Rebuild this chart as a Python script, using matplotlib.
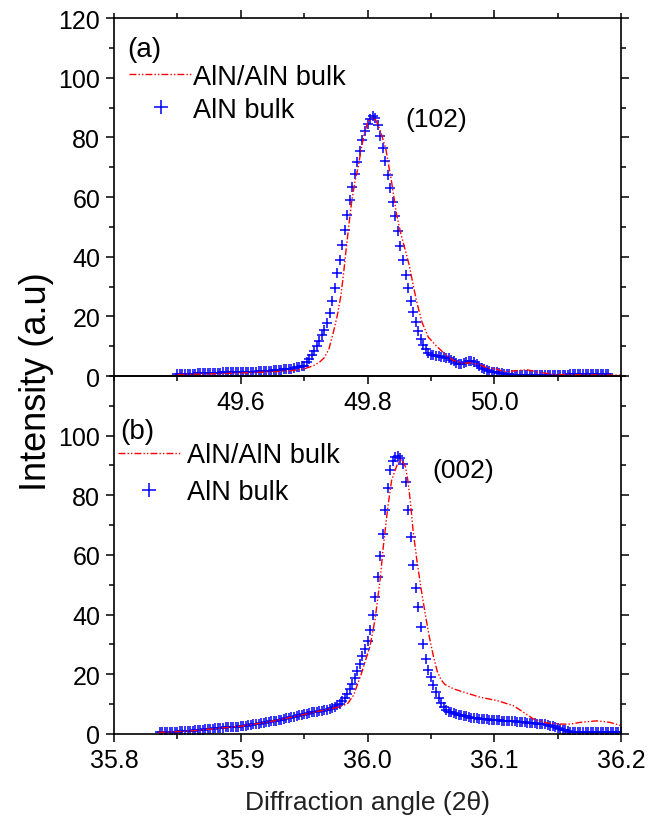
import numpy as np
import matplotlib
matplotlib.use("Agg")
import matplotlib.pyplot as plt
from matplotlib.ticker import MultipleLocator

plt.rcParams["font.family"] = ["Liberation Sans", "DejaVu Sans"]

# ---- (a) (102) reflection ----
# AlN bulk scan: 49.500 .. 50.180, step 0.004
x102_start, x102_stop, x102_step = 49.500, 50.180, 0.004
bulk102 = [
    0.6, 0.6, 0.7, 0.7, 0.7, 0.8, 0.8, 0.8, 0.9, 0.9,
    0.9, 1.0, 1.0, 1.0, 1.0, 1.1, 1.1, 1.1, 1.2, 1.2,
    1.2, 1.2, 1.3, 1.3, 1.3, 1.3, 1.4, 1.4, 1.4, 1.5,
    1.5, 1.5, 1.6, 1.6, 1.7, 1.7, 1.8, 1.8, 1.9, 2.0,
    2.0, 2.1, 2.2, 2.3, 2.4, 2.5, 2.7, 2.9, 3.1, 3.3,
    3.5, 4.6, 5.8, 7.0, 8.5, 10.0, 11.8, 13.6, 15.5, 17.8,
    21.0, 25.0, 29.5, 34.5, 39.0, 44.0, 49.0, 54.0, 59.0, 63.5,
    67.8, 71.8, 75.5, 79.0, 82.0, 84.5, 86.0, 87.0, 86.5, 84.0,
    80.5, 76.5, 72.0, 67.5, 63.0, 58.5, 53.5, 48.5, 43.5, 38.8,
    34.0, 29.5, 25.3, 21.5, 18.0, 15.0, 12.5, 10.5, 9.0, 7.8,
    7.2, 6.9, 6.7, 6.6, 6.5, 6.4, 6.2, 6.0, 5.5, 5.0,
    4.4, 4.0, 4.1, 4.4, 4.7, 5.0, 5.2, 4.8, 4.0, 3.2,
    2.6, 2.2, 1.9, 1.7, 1.5, 1.3, 1.2, 1.0, 0.9, 0.8,
    0.7, 0.6, 0.5, 0.5, 0.4, 0.4, 0.4, 0.3, 0.3, 0.3,
    0.3, 0.3, 0.3, 0.3, 0.3, 0.3, 0.3, 0.4, 0.4, 0.4,
    0.4, 0.5, 0.5, 0.5, 0.5, 0.6, 0.6, 0.6, 0.6, 0.7,
    0.7, 0.7, 0.7, 0.7, 0.8, 0.8, 0.8, 0.8, 0.8, 0.8,
    0.8,
]
# AlN/AlN bulk layer
film102_x = [49.500, 49.550, 49.600, 49.650, 49.680, 49.700, 49.715, 49.725, 49.732, 49.739,
             49.746, 49.752, 49.758, 49.762, 49.766, 49.770, 49.775, 49.780, 49.786, 49.790,
             49.795, 49.801, 49.808, 49.813, 49.817, 49.822, 49.829, 49.833, 49.838, 49.842,
             49.846, 49.852, 49.859, 49.866, 49.872, 49.878, 49.886, 49.896, 49.909, 49.922,
             49.935, 49.949, 49.962, 49.975, 49.990, 50.000, 50.018, 50.035, 50.051, 50.073,
             50.095, 50.150, 50.200]
film102_y = [0.5, 0.7, 1.0, 1.4, 1.8, 2.4, 3.5, 4.8, 6.2, 9.0,
             14.6, 20.0, 27.0, 34.0, 42.0, 49.5, 58.5, 65.0, 71.0, 76.0,
             81.5, 85.3, 86.5, 85.8, 84.0, 81.0, 76.0, 71.0, 65.0, 59.5,
             54.0, 48.2, 42.6, 37.0, 30.5, 24.5, 18.0, 13.0, 10.0, 7.4,
             5.3, 4.3, 4.4, 4.0, 2.6, 2.5, 1.4, 1.8, 2.1, 1.2,
             0.5, 0.4, 0.3]

# ---- (b) (002) reflection ----
# AlN bulk scan: 35.836 .. 36.200, step 0.002
x002_start, x002_stop, x002_step = 35.836, 36.200, 0.002
bulk002 = [
    0.5, 0.5, 0.6, 0.6, 0.7, 0.7, 0.8, 0.8, 0.9, 0.9,
    1.0, 1.0, 1.1, 1.1, 1.2, 1.2, 1.3, 1.4, 1.5, 1.6,
    1.7, 1.8, 1.9, 2.0, 2.0, 2.1, 2.2, 2.2, 2.3, 2.4,
    2.5, 2.5, 2.6, 2.7, 2.8, 2.9, 3.0, 3.2, 3.3, 3.4,
    3.6, 3.7, 3.9, 4.0, 4.2, 4.3, 4.5, 4.7, 4.8, 5.0,
    5.2, 5.4, 5.6, 5.8, 6.0, 6.2, 6.4, 6.6, 6.8, 7.0,
    7.2, 7.4, 7.5, 7.7, 7.8, 8.0, 8.2, 8.4, 8.7, 9.1,
    9.6, 10.2, 11.1, 12.2, 13.5, 15.0, 16.8, 18.8, 21.0, 23.5,
    26.0, 28.5, 31.0, 35.0, 40.0, 46.0, 52.5, 59.5, 67.0, 75.0,
    82.5, 88.5, 91.5, 93.0, 93.3, 92.5,
    90.5, 84.5, 75.0, 66.0, 56.5, 49.0, 42.5, 36.0, 30.0, 25.0,
    21.5, 19.0, 16.3, 14.0, 12.0, 10.3, 9.0, 8.0, 7.5, 7.2,
    7.0, 6.8, 6.5, 6.3, 6.1, 5.9, 5.7, 5.5, 5.3, 5.2,
    5.1, 5.0, 4.9, 4.9, 4.8, 4.8, 4.7, 4.6, 4.6, 4.5,
    4.4, 4.4, 4.3, 4.2, 4.2, 4.1, 4.0, 4.0, 3.9, 3.8,
    3.8, 3.7, 3.6, 3.5, 3.4, 3.3, 3.2, 3.0, 2.8, 2.6,
    2.3, 2.0, 1.7, 1.4, 1.2, 1.0, 0.8, 0.6, 0.5,
    0.5, 0.5, 0.5, 0.5, 0.5, 0.5, 0.5, 0.5, 0.5, 0.5,
    0.5, 0.5, 0.5, 0.5, 0.5, 0.5, 0.5, 0.5,
]
film002_x = [35.835, 35.860, 35.880, 35.900, 35.920, 35.940, 35.960, 35.975, 35.984, 35.989,
             35.995, 36.002, 36.006, 36.010, 36.0125, 36.016, 36.019, 36.024, 36.027, 36.030,
             36.032, 36.034, 36.036, 36.039, 36.0425, 36.046, 36.049, 36.052, 36.055, 36.058,
             36.061, 36.068, 36.076, 36.089, 36.102, 36.115, 36.123, 36.131, 36.141, 36.152,
             36.160, 36.168, 36.181, 36.191, 36.200]
film002_y = [0.5, 1.0, 1.8, 2.6, 3.9, 5.6, 7.5, 8.8, 10.0, 13.0,
             20.0, 29.5, 38.5, 52.0, 63.0, 76.0, 85.0, 91.0, 92.0, 89.5,
             84.5, 77.0, 68.0, 58.0, 48.0, 39.0, 32.0, 26.0, 21.0, 18.2,
             16.6, 15.1, 14.0, 12.3, 11.2, 9.5, 7.3, 5.0, 3.7, 3.3,
             3.3, 3.9, 4.4, 3.9, 2.8]

x102 = np.round(np.arange(x102_start, x102_stop + x102_step / 2, x102_step), 3)
x002 = np.round(np.arange(x002_start, x002_stop + x002_step / 2, x002_step), 3)

red_style = (0, (5, 1.5, 1, 1.5, 1, 1.5))
tick_fs = 18
leg_fs = 19.5

fig = plt.figure(figsize=(6.49, 8.2), dpi=100)
ax2 = fig.add_axes([0.1757, 0.1037, 0.7812, 0.4366])
ax1 = fig.add_axes([0.1757, 0.5402, 0.7812, 0.4366])
ax1.patch.set_alpha(0)
ax1.set_zorder(3)

for ax in (ax1, ax2):
    for s in ax.spines.values():
        s.set_linewidth(1.2)
    ax.tick_params(which="both", direction="out", width=1.1, labelsize=tick_fs,
                   right=True, pad=4)
    ax.tick_params(which="major", length=6)
    ax.tick_params(which="minor", length=3.5)
    ax.set_ylim(0, 120)

# panel (a)
b1, = ax1.plot(x102, bulk102, ls="none", marker="+", ms=7, mew=1.1, color="#0000ff",
               label="AlN bulk")
r1, = ax1.plot(film102_x, film102_y, color="#ff0000", lw=1.0, ls=red_style,
               label="AlN/AlN bulk")
ax1.set_xlim(49.4, 50.2)
ax1.set_xticks([49.6, 49.8, 50.0])
ax1.xaxis.set_minor_locator(MultipleLocator(0.1))
ax1.set_yticks(np.arange(0, 121, 20))
ax1.yaxis.set_minor_locator(MultipleLocator(10))
ax1.tick_params(axis="x", which="both", top=True, labeltop=False)
ax1.xaxis.set_major_formatter(plt.FuncFormatter(lambda v, p: f"{v:.1f}"))
ax1.text(0.026, 0.913, "(a)", transform=ax1.transAxes, fontsize=20, va="center")
ax1.text(0.635, 0.718, "(102)", transform=ax1.transAxes, fontsize=19, va="center",
         ha="center")
ax1.legend(handles=[r1, b1], loc="upper left", bbox_to_anchor=(0.03, 0.872),
           frameon=False, fontsize=leg_fs, borderpad=0, borderaxespad=0,
           handlelength=2.36, handletextpad=0.0, labelspacing=0.25, markerscale=1.5)

# panel (b)
b2, = ax2.plot(x002, bulk002, ls="none", marker="+", ms=7, mew=1.1, color="#0000ff",
               label="AlN bulk")
r2, = ax2.plot(film002_x, film002_y, color="#ff0000", lw=1.0, ls=red_style,
               label="AlN/AlN bulk")
ax2.set_xlim(35.8, 36.2)
ax2.set_xticks(np.arange(35.8, 36.21, 0.1))
ax2.xaxis.set_minor_locator(MultipleLocator(0.05))
ax2.xaxis.set_major_formatter(plt.FuncFormatter(lambda v, p: f"{v:.1f}"))
ax2.set_yticks(np.arange(0, 101, 20))
ax2.yaxis.set_minor_locator(MultipleLocator(10))
ax2.tick_params(axis="x", which="both", top=False)
ax2.text(0.012, 0.846, "(b)", transform=ax2.transAxes, fontsize=20, va="center")
ax2.text(0.688, 0.738, "(002)", transform=ax2.transAxes, fontsize=19, va="center",
         ha="center")
ax2.legend(handles=[r2, b2], loc="upper left", bbox_to_anchor=(0.008, 0.815),
           frameon=False, fontsize=leg_fs, borderpad=0, borderaxespad=0,
           handlelength=2.29, handletextpad=0.26, labelspacing=0.4, markerscale=1.5)

fig.text(37 / 649, 1 - 382 / 820, "Intensity (a.u)", rotation=90, fontsize=26,
         ha="center", va="center")
fig.text(367.5 / 649, 1 - 803 / 820, "Diffraction angle (2\u03b8)", fontsize=19,
         ha="center", va="center", color="#222222")

fig.savefig("out.png", dpi=100)
